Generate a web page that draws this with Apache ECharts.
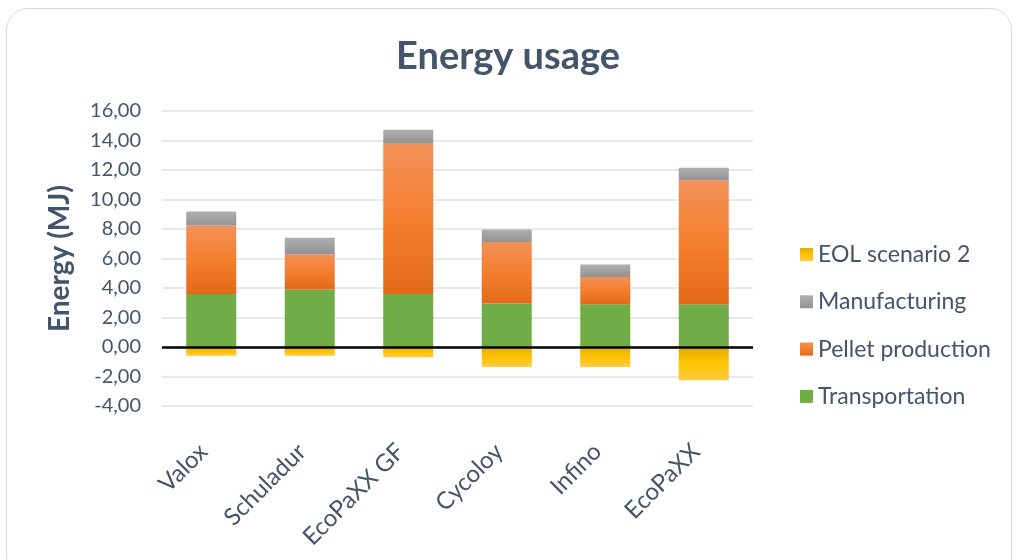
<!DOCTYPE html>
<html>
<head>
<meta charset="utf-8">
<script src="https://cdn.jsdelivr.net/npm/echarts@6/dist/echarts.min.js"></script>
<style>
  html, body { margin: 0; padding: 0; background: #fff; }
  #frame {
    position: absolute; left: 6px; top: 8px; width: 1006px; height: 570px;
    border: 1px solid #d9d9d9; border-radius: 22px; box-sizing: border-box;
  }
  #chart { position: absolute; left: 0; top: 0; width: 1016px; height: 560px; }
</style>
</head>
<body>
<div id="frame"></div>
<div id="chart"></div>
<script>
var categories = ['Valox', 'Schuladur', 'EcoPaXX GF', 'Cycoloy', 'Infino', 'EcoPaXX'];
var transportation = [3.6, 3.9, 3.6, 2.95, 2.9, 2.9];
var pellet = [4.64, 2.38, 10.18, 4.17, 1.85, 8.4];
var manufacturing = [0.95, 1.13, 0.95, 0.85, 0.85, 0.85];
var eol = [-0.6, -0.6, -0.7, -1.35, -1.35, -2.25];
var legendOrder = ['EOL scenario 2', 'Manufacturing', 'Pellet production', 'Transportation'];

var textColor = '#44546a';
var font = 'Lato';

function grad(stops) {
  return new echarts.graphic.LinearGradient(0, 0, 0, 1, stops);
}

var chart = echarts.init(document.getElementById('chart'), null, { renderer: 'canvas' });
var option = {
  animation: false,
  title: {
    text: 'Energy usage',
    left: 'center',
    top: 33,
    textStyle: { color: textColor, fontFamily: font, fontWeight: 'bold', fontSize: 38 }
  },
  legend: {
    data: legendOrder,
    orient: 'vertical',
    left: 795,
    top: 238,
    itemWidth: 13,
    itemHeight: 13,
    itemGap: 24.3,
    icon: 'rect',
    textStyle: { color: textColor, fontFamily: font, fontSize: 23 }
  },
  grid: { left: 162, right: 263, top: 111, bottom: 154 },
  xAxis: {
    type: 'category',
    data: categories,
    axisLine: { show: false },
    axisTick: { show: false },
    axisLabel: {
      rotate: 45,
      margin: 34,
      padding: [0, 11, 0, 0],
      color: textColor,
      fontFamily: font,
      fontSize: 24
    }
  },
  yAxis: {
    type: 'value',
    min: -4,
    max: 16,
    interval: 2,
    name: 'Energy (MJ)',
    nameLocation: 'middle',
    nameGap: 88,
    nameTextStyle: { color: textColor, fontFamily: font, fontWeight: 'bold', fontSize: 28 },
    axisLine: { show: false },
    axisTick: { show: false },
    axisLabel: {
      color: textColor,
      fontFamily: font,
      fontSize: 20,
      margin: 21,
      formatter: function (v) { return v.toFixed(2).replace('.', ','); }
    },
    splitLine: { lineStyle: { color: '#dde1e8', width: 1.5 } }
  },
  series: [
    {
      name: 'Transportation', type: 'bar', stack: 'e', barWidth: 50,
      data: transportation,
      itemStyle: { color: '#70ad47' }
    },
    {
      name: 'Pellet production', type: 'bar', stack: 'e', barWidth: 50,
      data: pellet,
      itemStyle: { color: grad([
        { offset: 0, color: '#f19159' },
        { offset: 0.5, color: '#f47f2e' },
        { offset: 1, color: '#e36918' }
      ]) }
    },
    {
      name: 'Manufacturing', type: 'bar', stack: 'e', barWidth: 50,
      data: manufacturing,
      itemStyle: { color: grad([
        { offset: 0, color: '#afafaf' },
        { offset: 1, color: '#939393' }
      ]) }
    },
    {
      name: 'EOL scenario 2', type: 'bar', stack: 'e', barWidth: 50,
      data: eol,
      itemStyle: { color: grad([
        { offset: 0, color: '#e3ad00' },
        { offset: 0.5, color: '#ffc400' },
        { offset: 1, color: '#ffca40' }
      ]) },
      markLine: {
        silent: true,
        symbol: 'none',
        label: { show: false },
        lineStyle: { color: '#000', width: 2.5, type: 'solid' },
        data: [{ yAxis: 0 }]
      }
    }
  ],
  color: ['#70ad47', '#ed7d31', '#a5a5a5', '#ffc000']
};
chart.setOption(option);
</script>
</body>
</html>
